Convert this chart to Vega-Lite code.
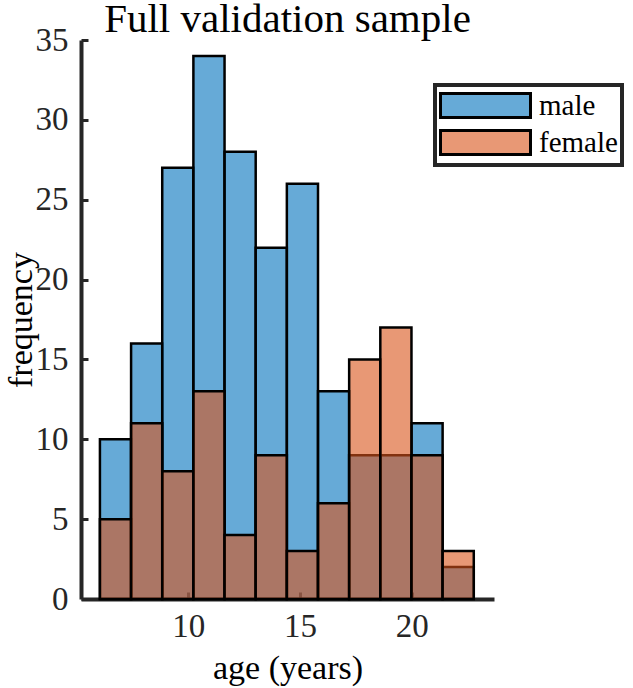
{
  "$schema": "https://vega.github.io/schema/vega-lite/v6.json",
  "width": 413,
  "height": 559,
  "autosize": "none",
  "padding": {"left": 81, "top": 40, "right": 139, "bottom": 89},
  "background": "white",
  "title": {"text": "Full validation sample", "font": "Liberation Serif", "fontSize": 41, "fontWeight": "normal", "color": "black", "anchor": "middle", "offset": -17},
  "data": {"values": [
    {"age_start": 6.047, "age_end": 7.441, "sex": "male", "count": 10},
    {"age_start": 7.441, "age_end": 8.835, "sex": "male", "count": 16},
    {"age_start": 8.835, "age_end": 10.229, "sex": "male", "count": 27},
    {"age_start": 10.229, "age_end": 11.623, "sex": "male", "count": 34},
    {"age_start": 11.623, "age_end": 13.017, "sex": "male", "count": 28},
    {"age_start": 13.017, "age_end": 14.411, "sex": "male", "count": 22},
    {"age_start": 14.411, "age_end": 15.805, "sex": "male", "count": 26},
    {"age_start": 15.805, "age_end": 17.199, "sex": "male", "count": 13},
    {"age_start": 17.199, "age_end": 18.593, "sex": "male", "count": 9},
    {"age_start": 18.593, "age_end": 19.987, "sex": "male", "count": 9},
    {"age_start": 19.987, "age_end": 21.381, "sex": "male", "count": 11},
    {"age_start": 21.381, "age_end": 22.775, "sex": "male", "count": 2},
    {"age_start": 6.047, "age_end": 7.441, "sex": "female", "count": 5},
    {"age_start": 7.441, "age_end": 8.835, "sex": "female", "count": 11},
    {"age_start": 8.835, "age_end": 10.229, "sex": "female", "count": 8},
    {"age_start": 10.229, "age_end": 11.623, "sex": "female", "count": 13},
    {"age_start": 11.623, "age_end": 13.017, "sex": "female", "count": 4},
    {"age_start": 13.017, "age_end": 14.411, "sex": "female", "count": 9},
    {"age_start": 14.411, "age_end": 15.805, "sex": "female", "count": 3},
    {"age_start": 15.805, "age_end": 17.199, "sex": "female", "count": 6},
    {"age_start": 17.199, "age_end": 18.593, "sex": "female", "count": 15},
    {"age_start": 18.593, "age_end": 19.987, "sex": "female", "count": 17},
    {"age_start": 19.987, "age_end": 21.381, "sex": "female", "count": 9},
    {"age_start": 21.381, "age_end": 22.775, "sex": "female", "count": 3}
  ]},
  "mark": {"type": "bar", "fillOpacity": 0.6, "stroke": "black", "strokeWidth": 2.5, "strokeOpacity": 1, "binSpacing": 0},
  "encoding": {
    "x": {"field": "age_start", "type": "quantitative",
      "scale": {"domain": [5.2, 23.68], "nice": false, "zero": false},
      "axis": {"values": [10, 15, 20], "title": "age (years)", "grid": false,
        "domainColor": "#262626", "domainWidth": 4, "tickColor": "#262626", "tickWidth": 3, "tickSize": -7,
        "labelFont": "Liberation Serif", "labelFontSize": 33, "labelColor": "#262626", "labelPadding": 18,
        "titleFont": "Liberation Serif", "titleFontSize": 34, "titleFontWeight": "normal", "titleColor": "black", "titlePadding": 8}},
    "x2": {"field": "age_end"},
    "y": {"field": "count", "type": "quantitative", "stack": null,
      "scale": {"domain": [0, 35], "nice": false},
      "axis": {"values": [0, 5, 10, 15, 20, 25, 30, 35], "title": "frequency", "grid": false,
        "domainColor": "#262626", "domainWidth": 4, "tickColor": "#262626", "tickWidth": 3, "tickSize": -7,
        "labelFont": "Liberation Serif", "labelFontSize": 33, "labelColor": "#262626", "labelPadding": 20,
        "titleFont": "Liberation Serif", "titleFontSize": 34, "titleFontWeight": "normal", "titleColor": "black", "titlePadding": -3}},
    "y2": {"datum": 0},
    "color": {"field": "sex", "type": "nominal",
      "scale": {"domain": ["male", "female"], "range": ["#0072BD", "#D95319"]},
      "legend": {"orient": "none", "legendX": 354, "legendY": 45, "title": null,
        "symbolType": "M-3,-0.8H3V0.8H-3Z", "symbolSize": 900, "symbolOffset": 30,
        "symbolStrokeColor": "black", "symbolStrokeWidth": 3,
        "labelFont": "Liberation Serif", "labelFontSize": 29, "labelColor": "black", "labelOffset": 37,
        "strokeColor": "#262626", "fillColor": "white", "padding": 4, "rowPadding": 0,
        "encode": {"symbols": {"update": {"fillOpacity": {"value": 0.6}, "strokeOpacity": {"value": 1}}},
                   "legend": {"update": {"strokeWidth": {"value": 4}}}}}}
  },
  "config": {"view": {"stroke": null}}
}
